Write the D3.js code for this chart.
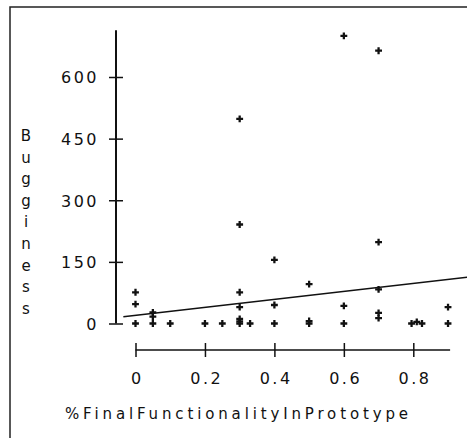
<!DOCTYPE html>
<html>
<head>
<meta charset="utf-8">
<script src="https://cdn.jsdelivr.net/npm/d3@7"></script>
<style>
body { margin: 0; background: #fff; }
text { font-family: "DejaVu Sans", sans-serif; fill: #111; }
</style>
</head>
<body>
<script>
// values
const xVals = [0, 0, 0, 0.05, 0.05, 0.05, 0.1, 0.2, 0.25,
  0.3, 0.3, 0.3, 0.3, 0.3, 0.3, 0.3, 0.33,
  0.4, 0.4, 0.4, 0.5, 0.5, 0.5, 0.6, 0.6, 0.6,
  0.7, 0.7, 0.7, 0.7, 0.7, 0.795, 0.81, 0.825, 0.9, 0.9]
const yVals = [0, 47, 76, 0, 17, 27, 0, 0, 0,
  0, 5, 11, 40, 76, 241, 498, 0,
  0, 45, 155, 0, 6, 96, 0, 43, 700,
  13, 26, 83, 198, 664, 0, 4, 0, 0, 40]
const xTicks = [0, 0.2, 0.4, 0.6, 0.8]
const yTicks = [0, 150, 300, 450, 600]
const fitIntercept = 20
const fitSlope = 97
const fitRange = [-0.035, 0.955]
const xMax = 0.906
const yMax = 714
const xTitle = '%FinalFunctionalityInPrototype'
const yTitle = 'Bugginess'

const width = 467, height = 438
const svg = d3.select('body').append('svg')
  .attr('width', width)
  .attr('height', height)

const x = d3.scaleLinear().domain([0, 0.8]).range([135.5, 413.3])
const y = d3.scaleLinear().domain([0, 600]).range([323.5, 77])

// frame
svg.append('path')
  .attr('d', 'M10,438V7H467')
  .attr('fill', 'none')
  .attr('stroke', '#222')
  .attr('stroke-width', 1.5)

// y axis
const yAxis = svg.append('g')
  .attr('transform', 'translate(116,0)')
  .call(d3.axisLeft(y).tickValues(yTicks).tickSize(7).tickPadding(10))
yAxis.select('.domain').remove()
yAxis.append('line')
  .attr('y1', y(0)).attr('y2', y(yMax))
  .attr('stroke', '#111').attr('stroke-width', 2)
yAxis.selectAll('.tick line').attr('x1', 7).attr('stroke', '#111').attr('stroke-width', 1.5)
yAxis.selectAll('.tick text')
  .attr('font-size', 16).attr('font-family', 'DejaVu Sans')
  .attr('letter-spacing', 2.5).attr('dy', '0.36em')

// x axis
const xAxis = svg.append('g')
  .attr('transform', 'translate(0,350)')
  .call(d3.axisBottom(x).tickValues(xTicks).tickSize(7).tickFormat(d3.format('~g')))
xAxis.select('.domain').remove()
xAxis.append('line')
  .attr('x1', x(0)).attr('x2', x(xMax))
  .attr('stroke', '#111').attr('stroke-width', 1.5)
xAxis.selectAll('.tick line').attr('y1', -7).attr('stroke', '#111').attr('stroke-width', 1.5)
xAxis.selectAll('.tick text')
  .attr('font-size', 16).attr('font-family', 'DejaVu Sans')
  .attr('letter-spacing', 2.5)
  .attr('y', 33.5).attr('dy', 0).attr('dx', 1.25)

// titles
svg.append('text')
  .attr('x', 236.5).attr('y', 418.5)
  .attr('text-anchor', 'middle')
  .attr('font-size', 15)
  .attr('textLength', 343)
  .attr('lengthAdjust', 'spacing')
  .text(xTitle)

svg.append('text')
  .attr('text-anchor', 'middle')
  .attr('font-size', 15)
  .selectAll('tspan')
  .data(yTitle.split(''))
  .enter().append('tspan')
    .attr('x', 26)
    .attr('y', (d, i) => 141 + i * 21.6)
    .text(d => d)

// fit line
svg.append('path')
  .datum(fitRange)
  .attr('d', d3.line().x(d => x(d)).y(d => y(fitIntercept + fitSlope * d)))
  .attr('fill', 'none')
  .attr('stroke', '#111')
  .attr('stroke-width', 1.6)

// points
svg.append('g')
  .selectAll('path')
  .data(xVals.map((v, i) => [v, yVals[i]]))
  .enter().append('path')
    .attr('transform', d => 'translate(' + x(d[0]) + ',' + y(d[1]) + ')')
    .attr('d', d3.symbol(d3.symbolCross, 26))
    .attr('fill', '#111')
</script>
</body>
</html>
